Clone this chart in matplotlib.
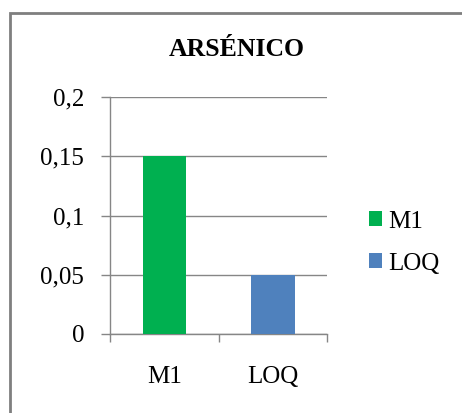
import matplotlib.pyplot as plt
from matplotlib.patches import Rectangle, Patch

categories = ['M1', 'LOQ']
values = [0.15, 0.05]
colors = ['#00B050', '#4F81BD']
y_ticks = [0, 0.05, 0.1, 0.15, 0.2]
y_labels = ['0', '0,05', '0,1', '0,15', '0,2']

plt.rcParams['font.family'] = ['Liberation Serif', 'DejaVu Serif']

fig = plt.figure(figsize=(4.62, 4.13), dpi=100)
ax = fig.add_axes([0.238, 0.1913, 0.470, 0.5738])

x = list(range(len(categories)))
ax.bar(x, values, width=0.4, color=colors, zorder=3)

ax.set_xlim(-0.5, 1.5)
ax.set_ylim(0, 0.2)
ax.set_yticks(y_ticks)
ax.set_yticklabels(y_labels, fontsize=18)
ax.set_xticks(x)
ax.set_xticklabels(categories, fontsize=18)
ax.set_xticks([-0.5, 0.5, 1.5], minor=True)
ax.tick_params(axis='x', which='major', length=0, pad=23)
ax.tick_params(axis='x', which='minor', length=6, color='#868686', width=1)
ax.tick_params(axis='y', length=6.5, color='#868686', width=1, pad=12)

ax.grid(axis='y', color='#868686', linewidth=1, zorder=0)
for s in ['top', 'right']:
    ax.spines[s].set_visible(False)
for s in ['left', 'bottom']:
    ax.spines[s].set_color('#868686')
    ax.spines[s].set_linewidth(1)

fig.text(237 / 462, 1 - 50 / 413, 'ARSÉNICO', fontsize=18.5, fontweight='bold',
         ha='center', va='center')

handles = [Patch(facecolor=c, label=l) for c, l in zip(colors, categories)]
fig.legend(handles=handles, loc='center left',
           bbox_to_anchor=(369 / 462, 1 - 242.5 / 413),
           frameon=False, fontsize=18, handlelength=0.52, handleheight=0.52,
           handletextpad=0.25, labelspacing=0.8, borderpad=0,
           borderaxespad=0)

# outer chart border
fig.patches.append(Rectangle((10 / 462, -0.05), 1.1, 1 - 13 / 413 + 0.05,
                             transform=fig.transFigure, fill=False,
                             edgecolor='#7f7f7f', linewidth=2))

fig.savefig('out.png', dpi=100)
